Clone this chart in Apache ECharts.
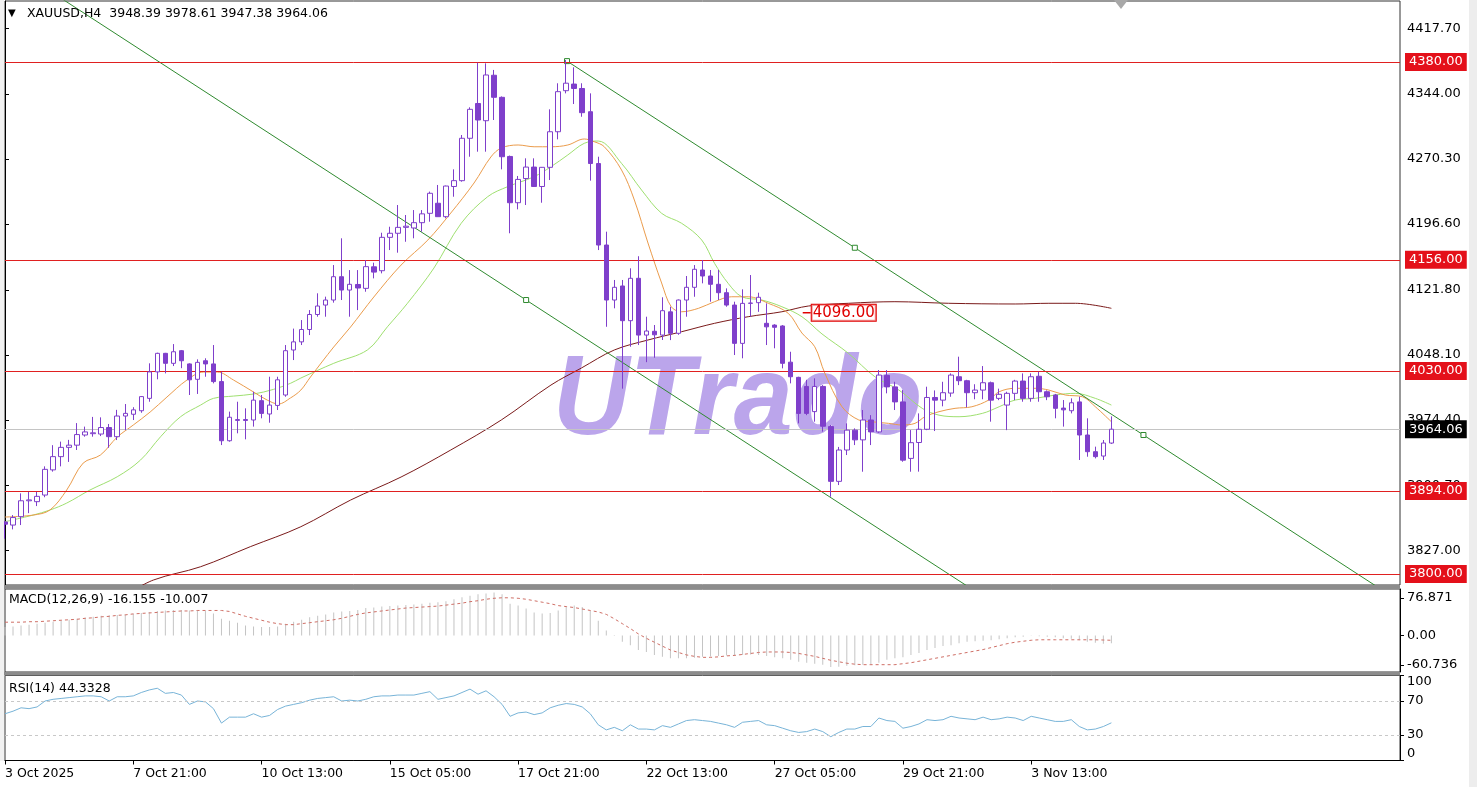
<!DOCTYPE html>
<html><head><meta charset="utf-8">
<script src="https://cdn.jsdelivr.net/npm/echarts@6/dist/echarts.min.js"></script>
<style>html,body{margin:0;padding:0;background:#fff}#c{width:1477px;height:787px}</style>
</head><body><div id="c"></div>
<script>
// ---------- DATA ----------
const symbolTitle = 'XAUUSD,H4  3948.39 3978.61 3947.38 3964.06';
const macdTitle = 'MACD(12,26,9) -16.155 -10.007';
const rsiTitle = 'RSI(14) 44.3328';
const tickLabels = ['3 Oct 2025','7 Oct 21:00','10 Oct 13:00','15 Oct 05:00','17 Oct 21:00','22 Oct 13:00','27 Oct 05:00','29 Oct 21:00','3 Nov 13:00'];
const tickStep = 16;
const slotCount = 175;
const priceTicks = [3827.00, 3900.70, 3974.40, 4048.10, 4121.80, 4196.60, 4270.30, 4344.00, 4417.70];
const levelLines = [4380, 4156, 4030, 3894, 3800];
const lastPrice = 3964.06;
const priceLabel = 4096.00;
const macdTicks = [-60.736, 0, 76.871];
const rsiTicks = [0, 30, 70, 100];
const rsiLevels = [70, 30];

// [open, high, low, close]
const candles = [
[3859,3860,3840,3856.5],[3855.5,3866.8,3850.6,3864],[3865,3891.4,3855.5,3883],[3883,3893,3869,3884],[3882,3893,3877,3888],
[3889.5,3922,3887,3918.6],[3918,3946,3916,3933],[3933,3950,3922,3943.5],[3943.5,3952,3927,3946],[3946,3971,3940.5,3958],
[3957.5,3967,3955.6,3961],[3959,3978,3955.6,3960],[3958.6,3977.5,3956.3,3966],[3966,3970,3943,3955.6],[3955.6,3986,3951.8,3979],
[3979,3992.6,3963,3982],[3981,3989,3974.5,3986],[3985,4001.6,3982.7,4001],[3999,4038.7,3995.2,4029],[4029,4050.7,4020.6,4050],
[4050,4050.5,4027.3,4038.7],[4038.7,4060.5,4035.6,4051.8],[4053,4053.8,4033.2,4041.6],[4038,4038.7,4002.8,4020],[4020.6,4043.2,4004,4039.8],
[4041.6,4044.4,4023.5,4038],[4038,4059.4,4016,4018],[4018,4029.2,3946.1,3951],[3951,3984,3949.9,3977.6],[3974,3995.2,3959.4,3975],
[3975,3987.7,3952.6,3974],[3974.5,4006.5,3967,3997],[3996.4,4002.8,3976.4,3982],[3981.3,4023.5,3971.4,3991.4],[3991,4023.5,3985.8,4020],
[4002.8,4059.4,4000.8,4053],[4053.8,4078,4042.4,4063],[4063,4087.7,4059.4,4077],[4077,4099,4070.7,4094],[4094,4118,4091.5,4103.6],
[4104.7,4114.2,4091.5,4110.4],[4110.4,4150,4107.4,4136.8],[4136.8,4180.3,4110.4,4121.7],[4121.7,4144.3,4091.5,4128.2],[4128,4144.3,4099,4124],
[4123.6,4155.7,4119.8,4148.2],[4148,4152.7,4134.9,4142],[4143.6,4186.6,4140.6,4181.4],[4181.4,4193.4,4167,4186],[4186,4218,4164,4192.7],
[4192.7,4206.7,4176.4,4194],[4192,4212.3,4180.3,4198],[4198,4212.3,4187.8,4208],[4208.6,4233.2,4199.1,4231.3],[4220,4240.7,4204.8,4204.8],
[4204.8,4240,4203,4239.5],[4239,4258.4,4227.4,4245.6],[4245.6,4297.3,4244.4,4293.6],[4293.6,4328.7,4272.7,4326.4],[4333,4379.2,4278.4,4314.3],
[4313.5,4378.5,4278.4,4365.3],[4365,4371,4314.3,4340],[4340,4341,4258.4,4272.7],[4273,4274,4186,4220.6],[4220.6,4250.9,4213.1,4247],
[4248,4270.9,4218,4261],[4261,4270.9,4238.8,4239],[4239,4261,4220.6,4260.7],[4260.7,4326.4,4246.3,4301],[4301,4355.9,4292.4,4346.4],
[4347.5,4382.3,4344.5,4356],[4355,4374,4332.4,4350],[4350,4355.9,4318,4322.6],[4323.7,4344.5,4245.6,4265],[4265,4272.7,4167,4172.7],
[4172.7,4187.8,4080.1,4110.4],[4110.4,4133.1,4101,4124.8],[4126.3,4133.1,4010,4087],[4087,4146.3,4057.5,4135],[4135,4160,4059.4,4070.7],
[4070.7,4091.5,4040,4075.3],[4075,4082.1,4045,4071],[4070.7,4113.5,4065.1,4098.3],[4097,4102.8,4065,4072.7],[4072.7,4111,4071,4110.4],
[4110.4,4137.6,4091.5,4124.8],[4124.8,4150,4114.1,4145.2],[4144.4,4155.7,4129.3,4137.6],[4137.6,4144.4,4108.5,4128.2],[4128.2,4144.4,4110.4,4118.7],
[4118.7,4123.6,4102.8,4104.7],[4104.7,4108.5,4048.1,4061.3],[4061.3,4122.5,4044.4,4106.6],[4106.6,4138.7,4091.5,4107],[4107.4,4118.7,4097,4113.5],
[4084,4106.6,4059.4,4080],[4082,4083,4055.7,4079.5],[4081,4082,4033,4038.7],[4040,4051.8,4016,4023.5],[4022.8,4023.5,3970.7,3982],
[4012.5,4020,3980,3982],[3984,4021.7,3972.6,4012.5],[4012.5,4014,3961.3,3967.4],[3967,3968.8,3887.6,3905],[3905,3944,3900.8,3940.5],
[3940.5,3970.7,3934.8,3963],[3963,3965,3946.1,3952],[3952,3985.8,3915.9,3974.5],[3974.5,3980,3946.1,3961],[3961,4031.1,3960,4025.4],
[4025,4031,4004.7,4012],[4012,4017.8,3985.8,3995],[3995,4008.4,3927.2,3929],[3931,3963.1,3915.9,3948.8],[3949,3982,3916,3964],
[3964,4012.2,3963,4000],[4000,4008,3962,3997],[3997,4017.8,3990,4005.4],[4005,4027.3,4000.8,4025.4],[4023.5,4046.2,4014,4019],
[4019,4020,3988.9,4005.4],[4005.4,4015,3998,4008.4],[4008.4,4035.6,3998,4016.7],[4016.7,4018,3972.6,3997],[3999,4010,3997,4003.6],
[3991.4,4006.5,3963,4004.7],[4004.7,4020,3997,4018.6],[4018.6,4027.3,3995.2,3999],[3999,4027.3,3995.2,4023.5],[4024,4029.2,3995.2,4006.5],
[4006.5,4008,3997,4000.8],[4002.8,4004,3976.4,3987.7],[3988,3997.1,3967,3986],[3985,3999,3982,3994],[3995,4000.8,3929.2,3957.5],
[3957.5,3976.4,3932.9,3938.6],[3938.6,3944.3,3931,3933],[3933.7,3951.8,3929.2,3948.4],[3948.39,3978.61,3947.38,3964.06]
];

// moving averages: [bar index, price]
const maFast = [[0,3864.6],[3.5,3866.8],[5.6,3872.5],[7.7,3895.2],[9.75,3925.7],[11.9,3934.8],[14,3955.2],[16,3968.8],[18.1,3983.5],[20.2,4000.5],[22.7,4019.8],[24.75,4028.8],[26.5,4028.8],[28.5,4019.8],[31,4006.2],[32.7,3997.1],[34.1,3992.6],[35.6,3999.4],[36.9,4008.4],[38.1,4023.2],[41,4057.2],[43.1,4079.8],[46,4113.8],[49.4,4150],[52.75,4178.4],[55.6,4208.9],[58.5,4242.9],[60.6,4272.4],[61.9,4282.6],[64,4286],[66,4284],[68.1,4284],[70.2,4286],[72.25,4292.8],[73.5,4289.7],[74.75,4284],[76.9,4257.7],[78.5,4223.7],[80.2,4175],[81.9,4129.7],[83.1,4102.8],[84.4,4097.1],[86.5,4101],[88.5,4108.5],[90.6,4114.1],[92.7,4114.1],[95.2,4106.7],[97.7,4095.3],[99.4,4073],[101,4057.5],[102.25,4027.7],[104.4,3989.5],[106.5,3974.5],[108.1,3972.5],[110.2,3970.7],[111.9,3968.8],[113.5,3970.7],[114.75,3978.2],[116.5,3983.9],[118.5,3987.7],[120.6,3989.5],[122.7,3997.1],[124,4006.5],[126,4010.4],[128.5,4010.4],[130.2,4008.4],[132.25,4002.8],[134.4,4000.8],[136,3989.5],[138,3972.5]];
const maMid = [[0,3859.3],[3.5,3866.8],[5.6,3872.5],[7.7,3880.4],[10.6,3895.2],[14,3910.2],[16.9,3929.1],[19.4,3955.5],[21.9,3978.2],[24.4,3991.4],[26,3999],[28.5,4001.6],[31,4003.9],[33.5,4009.2],[35.6,4016],[36.9,4022],[41,4038.7],[45.2,4053.8],[47.7,4080.1],[50.2,4106.7],[53.5,4146.6],[56.9,4197.3],[60.2,4227.4],[62.7,4238.8],[66,4250.1],[68.1,4261.4],[70.2,4274.7],[72.25,4287.9],[74,4290.5],[76.9,4265.2],[79.4,4235],[81.9,4208.6],[84.4,4197.3],[86.9,4178.4],[88.5,4152],[90.2,4129.3],[91.9,4114.1],[94.4,4110.4],[96.9,4102.8],[99.4,4091.5],[101.9,4072],[105.2,4050],[108.5,4023.5],[111.5,4008.4],[114.4,3987.7],[116.5,3980],[119,3978.2],[121.9,3982],[124,3989.5],[126,3997.1],[128.5,3999],[131,4002.8],[133.5,4004.7],[136,3999],[138,3991.4]];
const maSlow = [[15,3776],[18.5,3793.2],[24.4,3808.3],[30.6,3831],[36.9,3853.6],[43.1,3883.8],[49.4,3909.9],[55.6,3940.5],[61.9,3974.5],[68.1,4014.1],[71.9,4033.4],[76,4053.8],[80.2,4065.1],[84.4,4074.5],[88.5,4084],[92.7,4091.5],[96.9,4097.1],[100.2,4103.6],[105.2,4106.7],[111,4108.5],[117.7,4106.7],[126,4105.9],[130.2,4106.7],[133.5,4106.7],[138,4101]];

// trend channel anchors [bar index, price, anchor square shown]
const channelLower = [[7,4452.2,0],[65,4110.4,1],[121,3780.6,0]];
const channelUpper = [[70.1,4381,1],[106,4169.6,1],[142,3957.5,1],[176,3757,0]];

const macdMain = [17,18,20,22,24,26,28,30,32,34,36,38,40,41,42,43,44,46,48,50,51,52,52,51,52,50,45,34,30,26,20,18,17,17,18,24,28,32,37,40,43,47,49,50,52,56,57,59,60,61,62,63,65,67,68,70,74,78,81,84,86,88,84,65,61,55,47,45,46,51,58,61,58,50,30,10,1,-13,-20,-30,-34,-40,-44,-47,-47,-47,-46,-44,-43,-42,-41,-42,-40,-39,-40,-42,-45,-47,-50,-54,-56,-58,-60,-65,-64,-62,-61,-60,-60,-56,-50,-47,-45,-40,-36,-30,-26,-22,-20,-16,-13,-12,-11,-10,-8,-6,-4,-3,-1,-2,-3,-4,-6,-7,-10,-13,-15,-17,-16.155];
const macdSignal = [27,27,27,28,28,29,30,31,32,33,35,36,38,39,41,42,44,45,46,47,48,49,50,50,51,51,51,51,49,44,39,35,31,27,24,22,22,24,26,28,30,32,35,39,43,46,48,50,52,54,56,57,58,59,60,62,64,66,69,71,74,76,77,77,76,74,71,68,65,61,59,57,54,51,48,43,34,24,14,3,-6,-14,-22,-30,-35,-40,-43,-45,-45,-44,-42,-41,-39,-37,-35,-34,-34,-34,-35,-37,-40,-43,-47,-51,-54,-57,-59,-60,-60,-60,-60,-60,-58,-56,-53,-50,-47,-44,-41,-38,-35,-32,-29,-25,-21,-17,-14,-12,-10,-9,-9,-9,-9,-9,-9,-9,-9,-9.5,-10.007];
const rsi = [55,58,62,61,63,70,72,73,74,75,76,76,75,70,75,75,76,80,83,85,79,80,77,66,70,69,61,44,51,51,51,55,51,53,60,64,66,68,71,73,74,75,70,71,70,72,75,76,76,77,77,77,79,81,72,74,76,80,84,78,82,75,66,52,56,57,54,56,62,65,67,66,63,55,42,36,39,35,42,37,37,36,41,39,43,47,48,47,46,44,42,39,45,46,47,42,41,38,35,33,34,37,34,28,33,37,37,40,40,50,47,46,38,40,43,48,47,48,52,50,49,48,51,48,49,51,50,47,52,50,48,46,46,48,40,36,37,40,44.33];

// ---------- CHART ----------
const FONT = '"DejaVu Sans", Verdana, sans-serif';
const FS = 12.5;
const L = 5, W = 1395;
const categories = Array.from({length: slotCount}, (_, i) =>
  (i % tickStep === 0 && i / tickStep < tickLabels.length) ? tickLabels[i / tickStep] : '');

const candleData = candles.map(c => [c[0], c[3], c[2], c[1]]);
const purple = '#7f3fcb';

function channelSeries(pts) {
  return {
    type: 'line', xAxisIndex: 1, yAxisIndex: 0, silent: true, clip: true,
    showSymbol: true, showAllSymbol: true, symbolSize: 5,
    data: pts.map(p => ({value: [p[0], p[1]], symbol: p[2] ? 'rect' : 'none'})),
    lineStyle: {color: '#2f8a2f', width: 1},
    itemStyle: {color: '#ffffff', borderColor: '#2f8a2f', borderWidth: 1},
    z: 4
  };
}
function maSeries(pts, color) {
  return {type: 'line', xAxisIndex: 1, yAxisIndex: 0, data: pts, smooth: 0.35, showSymbol: false,
    silent: true, clip: true, lineStyle: {color: color, width: 1}, z: 3};
}
const lvlLabel = {show: true, position: 'end', distance: 5, color: '#fff', backgroundColor: '#e4101a',
  padding: [3, 4, 2, 4], fontFamily: FONT, fontSize: 13};

const option = {
  animation: false,
  backgroundColor: '#ffffff',
  grid: [
    {left: L, width: W, top: 1, height: 584, show: true, borderColor: '#333', borderWidth: 1},
    {left: L, width: W, top: 589, height: 83, show: true, borderColor: '#333', borderWidth: 1},
    {left: L, width: W, top: 675.5, height: 85, show: true, borderColor: '#333', borderWidth: 1}
  ],
  xAxis: [
    {type: 'category', gridIndex: 0, data: categories, boundaryGap: false, show: false},
    {type: 'value', gridIndex: 0, min: 0, max: slotCount - 1, show: false},
    {type: 'category', gridIndex: 1, data: categories, boundaryGap: false, show: false},
    {type: 'category', gridIndex: 2, data: categories, boundaryGap: false,
      axisLine: {show: true, lineStyle: {color: '#000'}},
      axisTick: {show: true, length: 4, lineStyle: {color: '#000'}, interval: (i, v) => v !== ''},
      axisLabel: {interval: (i, v) => v !== '', align: 'left', color: '#000', fontFamily: FONT, fontSize: FS, margin: 7},
      splitLine: {show: false}}
  ],
  yAxis: [
    {gridIndex: 0, type: 'value', position: 'right', min: 3787.6, max: 4449.1, splitLine: {show: false},
      axisLine: {show: true, lineStyle: {color: '#000'}},
      axisTick: {show: true, length: 4, lineStyle: {color: '#000'}, customValues: priceTicks},
      axisLabel: {customValues: priceTicks, formatter: v => v.toFixed(2), color: '#000', fontFamily: FONT, fontSize: 13, margin: 7}},
    {gridIndex: 1, type: 'value', position: 'right', min: -75, max: 95, splitLine: {show: false},
      axisLine: {show: true, lineStyle: {color: '#000'}},
      axisTick: {show: true, length: 4, lineStyle: {color: '#000'}, customValues: macdTicks},
      axisLabel: {customValues: macdTicks, formatter: v => v === 0 ? '0.00' : v.toFixed(3), color: '#000', fontFamily: FONT, fontSize: 13, margin: 7}},
    {gridIndex: 2, type: 'value', position: 'right', min: 0, max: 100, splitLine: {show: false},
      axisLine: {show: true, lineStyle: {color: '#000'}},
      axisTick: {show: true, length: 4, lineStyle: {color: '#000'}, customValues: rsiTicks},
      axisLabel: {customValues: rsiTicks, color: '#000', fontFamily: FONT, fontSize: 13, margin: 7,
        verticalAlignMinLabel: 'bottom', verticalAlignMaxLabel: 'top'}}
  ],
  series: [
    {type: 'candlestick', xAxisIndex: 0, yAxisIndex: 0, data: candleData, barWidth: 5, z: 5,
      itemStyle: {color: '#ffffff', color0: purple, borderColor: purple, borderColor0: purple, borderWidth: 1},
      markLine: {silent: true, symbol: ['none', 'none'], animation: false,
        lineStyle: {color: '#e02020', width: 1, type: 'solid'}, label: lvlLabel,
        data: levelLines.map(v => ({yAxis: v, label: {formatter: v.toFixed(2)}})).concat([
          {yAxis: lastPrice, lineStyle: {color: '#c4c4c4'}, label: {formatter: lastPrice.toFixed(2), backgroundColor: '#000'}}])},
      markPoint: {silent: true, animation: false,
        data: [{coord: [100, priceLabel], symbol: 'rect', symbolSize: [8, 1.5], itemStyle: {color: '#e00000'},
          label: {show: true, position: 'right', distance: 1, formatter: priceLabel.toFixed(2), color: '#e00000',
            borderColor: '#e00000', borderWidth: 1, padding: [1, 1, 0, 1], fontFamily: FONT, fontSize: 15,
            backgroundColor: 'rgba(255,255,255,0.6)'}}]}
    },
    maSeries(maSlow, '#7a1a1a'),
    maSeries(maMid, '#9fe070'),
    maSeries(maFast, '#eb9c4c'),
    channelSeries(channelLower),
    channelSeries(channelUpper),
    {type: 'bar', xAxisIndex: 2, yAxisIndex: 1, data: macdMain, barWidth: 1, silent: true,
      itemStyle: {color: '#c4c4c4'}},
    {type: 'line', xAxisIndex: 2, yAxisIndex: 1, data: macdSignal, showSymbol: false, silent: true,
      lineStyle: {color: '#cf6f66', width: 1, type: [3, 3]}},
    {type: 'line', xAxisIndex: 3, yAxisIndex: 2, data: rsi, showSymbol: false, silent: true,
      lineStyle: {color: '#78b4d8', width: 1},
      markLine: {silent: true, symbol: ['none', 'none'], label: {show: false},
        lineStyle: {color: '#c8c8c8', type: [3, 3], width: 1},
        data: rsiLevels.map(v => ({yAxis: v}))}}
  ],
  graphic: [
    {type: 'text', x: 553, y: 346, scaleX: 0.93, z: 0, silent: true,
      style: {text: 'UTrado', font: 'italic bold 114px "Liberation Sans", Arial, sans-serif', fill: '#bba5eb'}},
    {type: 'rect', shape: {x: 0, y: 585, width: 1400, height: 4}, style: {fill: '#8c8c8c'}, z: 20, silent: true},
    {type: 'rect', shape: {x: 0, y: 672, width: 1400, height: 3.5}, style: {fill: '#8c8c8c'}, z: 20, silent: true},
    {type: 'rect', shape: {x: 0, y: 0, width: 4, height: 761}, style: {fill: '#f2f2f2'}, z: 20, silent: true},
    {type: 'rect', shape: {x: 1469, y: 0, width: 8, height: 787}, style: {fill: '#ededed'}, z: 20, silent: true},
    {type: 'polygon', shape: {points: [[1114, 0], [1128, 0], [1121, 9]]}, style: {fill: '#a8a8a8'}, z: 20, silent: true},
    {type: 'text', x: 8, y: 8, z: 21, style: {text: '▼', font: '10px ' + FONT, fill: '#000'}},
    {type: 'text', x: 27, y: 7, z: 21, style: {text: symbolTitle, font: FS + 'px ' + FONT, fill: '#000'}},
    {type: 'text', x: 9, y: 593, z: 21, style: {text: macdTitle, font: FS + 'px ' + FONT, fill: '#000'}},
    {type: 'text', x: 9, y: 682, z: 21, style: {text: rsiTitle, font: FS + 'px ' + FONT, fill: '#000'}}
  ]
};
const chart = echarts.init(document.getElementById('c'));
chart.setOption(option);
</script>
</body></html>
